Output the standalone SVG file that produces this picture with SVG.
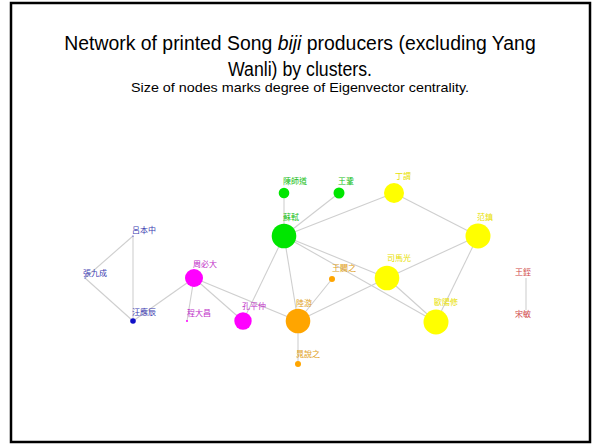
<svg xmlns="http://www.w3.org/2000/svg" width="600" height="445" viewBox="0 0 600 445">
<style>
.title{font-family:"Liberation Sans",Arial,sans-serif;fill:#000;text-anchor:middle}
.lbl{font-family:"Noto Sans CJK TC","Noto Sans CJK SC",sans-serif;font-size:8px}
.edge{stroke:#cfcfcf;stroke-width:1.1;fill:none}
.blue{fill:#1010c8}.mag{fill:#ff00ff}.org{fill:#ffa500}.yel{fill:#ffff00}.grn{fill:#00e600}.red{fill:#d83838}
.tblue{fill:#3a3ab0}.tmag{fill:#c030c8}.torg{fill:#e0a020}.tyel{fill:#e8e000}.tgrn{fill:#20c020}.tred{fill:#d04848}
</style>
<rect x="0" y="0" width="600" height="445" fill="#fff"/>
<rect x="11" y="3" width="579" height="439" fill="none" stroke="#000" stroke-width="2.5"/>
<text class="title" x="300" y="50" font-size="19.4">Network of printed Song <tspan font-style="italic">biji</tspan> producers (excluding Yang</text>
<text class="title" x="300" y="76" font-size="19.4" textLength="144" lengthAdjust="spacingAndGlyphs">Wanli) by clusters.</text>
<text class="title" x="300" y="92" font-size="13" textLength="338" lengthAdjust="spacingAndGlyphs">Size of nodes marks degree of Eigenvector centrality.</text>
<g id="connectors">
<line class="edge" x1="133" y1="236" x2="133" y2="321"/>
<line class="edge" x1="133" y1="236" x2="85" y2="278"/>
<line class="edge" x1="85" y1="278" x2="133" y2="321"/>
<line class="edge" x1="133" y1="321" x2="194" y2="278"/>
<line class="edge" x1="194" y1="278" x2="187" y2="321"/>
<line class="edge" x1="194" y1="278" x2="243" y2="321"/>
<line class="edge" x1="194" y1="278" x2="298" y2="321"/>
<line class="edge" x1="243" y1="321" x2="284" y2="236"/>
<line class="edge" x1="298" y1="321" x2="284" y2="236"/>
<line class="edge" x1="298" y1="321" x2="298" y2="364"/>
<line class="edge" x1="298" y1="321" x2="332" y2="279"/>
<line class="edge" x1="298" y1="321" x2="387" y2="278"/>
<line class="edge" x1="284" y1="236" x2="284" y2="193"/>
<line class="edge" x1="284" y1="236" x2="339" y2="193"/>
<line class="edge" x1="284" y1="236" x2="394" y2="193"/>
<line class="edge" x1="284" y1="236" x2="387" y2="278"/>
<line class="edge" x1="284" y1="236" x2="436" y2="322"/>
<line class="edge" x1="394" y1="193" x2="478" y2="236"/>
<line class="edge" x1="387" y1="278" x2="478" y2="236"/>
<line class="edge" x1="387" y1="278" x2="436" y2="322"/>
<line class="edge" x1="436" y1="322" x2="478" y2="236"/>
<line class="edge" x1="526" y1="278" x2="526" y2="310"/>
</g>
<g id="n-lubenzhong"><circle class="blue" cx="133" cy="236" r="0.6"/><text class="lbl tblue" x="132" y="233">呂本中</text></g>
<g id="n-zhangjiucheng"><circle class="blue" cx="85" cy="278" r="0.6"/><text class="lbl tblue" x="83" y="276">張九成</text></g>
<g id="n-wangyingchen"><circle class="blue" cx="133" cy="321" r="2.8"/><text class="lbl tblue" x="132" y="315">汪應辰</text></g>
<g id="n-zhoubida"><circle class="mag" cx="194" cy="278" r="9"/><text class="lbl tmag" x="193" y="267">周必大</text></g>
<g id="n-chengdachang"><circle class="mag" cx="187" cy="321" r="1"/><text class="lbl tmag" x="187" y="316">程大昌</text></g>
<g id="n-kongpingzhong"><circle class="mag" cx="243" cy="321" r="8.7"/><text class="lbl tmag" x="242" y="309">孔平仲</text></g>
<g id="n-luyou"><circle class="org" cx="298" cy="321" r="12.3"/><text class="lbl torg" x="296" y="306">陸游</text></g>
<g id="n-chaoyuezhi"><circle class="org" cx="298" cy="364" r="3"/><text class="lbl torg" x="296" y="357">晁說之</text></g>
<g id="n-wangpizhi"><circle class="org" cx="332" cy="279" r="3"/><text class="lbl torg" x="332" y="271">王闢之</text></g>
<g id="n-sushi"><circle class="grn" cx="284" cy="236" r="12.3"/><text class="lbl tgrn" x="283" y="220">蘇軾</text></g>
<g id="n-chenshidao"><circle class="grn" cx="284" cy="193" r="5.3"/><text class="lbl tgrn" x="283" y="184">陳師道</text></g>
<g id="n-wanggong"><circle class="grn" cx="339" cy="193" r="5.5"/><text class="lbl tgrn" x="338" y="184">王鞏</text></g>
<g id="n-dingwei"><circle class="yel" cx="394" cy="193" r="10"/><text class="lbl tyel" x="395" y="179">丁謂</text></g>
<g id="n-fanzhen"><circle class="yel" cx="478" cy="236" r="12.5"/><text class="lbl tyel" x="477" y="220">范鎮</text></g>
<g id="n-simaguang"><circle class="yel" cx="387" cy="278" r="12.3"/><text class="lbl tyel" x="387" y="261">司馬光</text></g>
<g id="n-ouyangxiu"><circle class="yel" cx="436" cy="322" r="12.5"/><text class="lbl tyel" x="434" y="305">歐陽修</text></g>
<g id="n-wangzhi"><text class="lbl tred" x="515" y="275">王銍</text></g>
<g id="n-songmin"><text class="lbl tred" x="515" y="317">宋敏</text></g>
</svg>
